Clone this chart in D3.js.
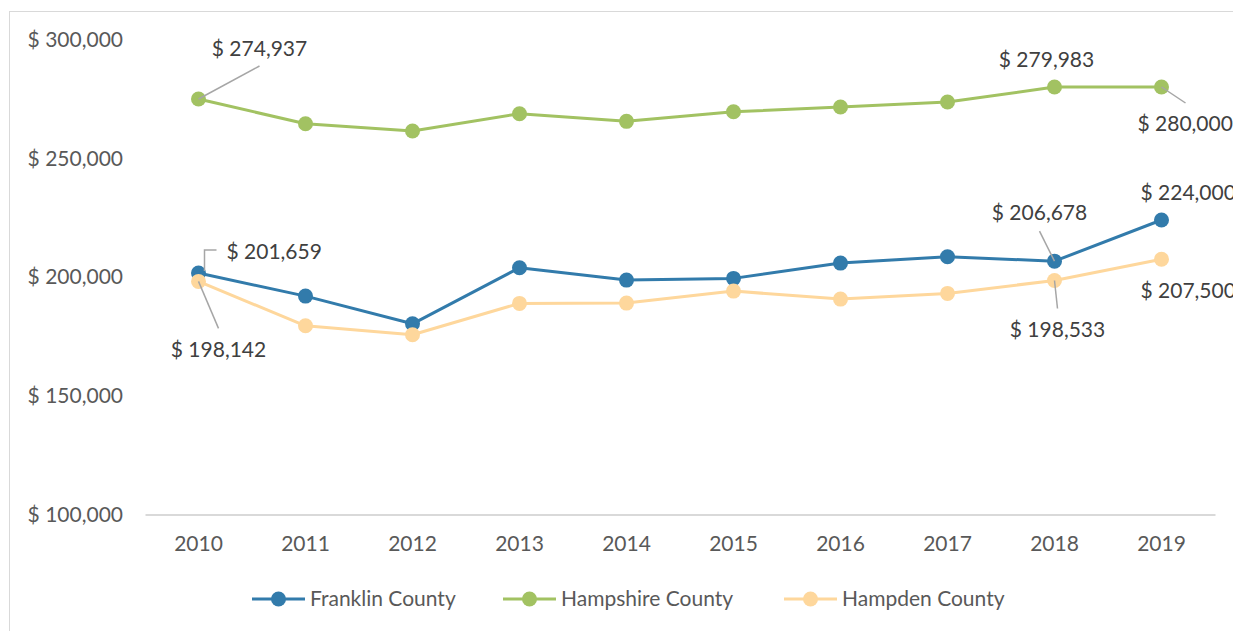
<!DOCTYPE html>
<html>
<head>
<meta charset="utf-8">
<script src="https://cdn.jsdelivr.net/npm/d3@7"></script>
<style>
  body { margin: 0; background: #fff; }
  svg { display: block; font-family: Lato, "Open Sans", sans-serif; }
</style>
</head>
<body>
<svg id="chart" width="1233" height="631"></svg>
<script>
// data
const years = ['2010', '2011', '2012', '2013', '2014', '2015', '2016', '2017', '2018', '2019'];
const seriesNames = ['Franklin County', 'Hampshire County', 'Hampden County'];
const franklin = [201659, 191955, 180295, 203882, 198701, 199417, 205855, 208509, 206678, 224000];
const hampshire = [274937, 264533, 261460, 268747, 265546, 269589, 271569, 273673, 279983, 280000];
const hampden = [198142, 179444, 175662, 188887, 189014, 194068, 190691, 193092, 198533, 207500];
const yTicks = [100000, 150000, 200000, 250000, 300000];

// which points carry a data label: [series index, year index]
const labelled = [
  [1, 0], [0, 0], [2, 0],
  [1, 8], [1, 9], [0, 9], [0, 8], [2, 8], [2, 9]
];

// label placement relative to the point (anchor, dx, dy, leader polyline)
const labelLayout = [
  { anchor: 'middle', dx: 61, dy: -50, leader: [[0, 0], [61, -33]] },
  { anchor: 'start', dx: 28, dy: -21, leader: [[6, -2], [6, -23], [18, -23]] },
  { anchor: 'middle', dx: 20, dy: 68, leader: [[0, 0], [20, 47]] },
  { anchor: 'middle', dx: -8, dy: -27, leader: null },
  { anchor: 'start', dx: -24, dy: 37, leader: [[0, 0], [24, 16]] },
  { anchor: 'start', dx: -21, dy: -27, leader: null },
  { anchor: 'middle', dx: -15, dy: -48, leader: [[-15, -30], [0, 0]] },
  { anchor: 'middle', dx: 3, dy: 49, leader: [[0, 0], [3, 28]] },
  { anchor: 'start', dx: -21, dy: 31, leader: null }
];

const colors = ['#327bab', '#a2c262', '#fed79c'];
const seriesValues = [franklin, hampshire, hampden];
const fontSize = 21;

const svg = d3.select('#chart');

// outer chart border
svg.append('rect')
  .attr('x', 9.5).attr('y', 11.5)
  .attr('width', 1240).attr('height', 640)
  .attr('fill', 'none')
  .attr('stroke', '#d9d9d9');

const x = d3.scaleBand().domain(years).range([145, 1215]);
const y = d3.scaleLinear().domain([100000, 300000]).range([514.5, 39.5]);
const cx = d => x(d) + x.bandwidth() / 2;
const money = v => '$ ' + d3.format(',')(v);

// y axis labels (no gridlines except baseline)
svg.append('g')
  .selectAll('text')
  .data(yTicks)
  .join('text')
  .attr('x', 123)
  .attr('y', d => y(d))
  .attr('dy', '0.35em')
  .attr('text-anchor', 'end')
  .attr('font-size', fontSize)
  .attr('fill', '#595959')
  .text(money);

// x axis
const xAxis = svg.append('g')
  .attr('transform', `translate(0,${y(100000)})`)
  .call(d3.axisBottom(x).tickSize(0).tickPadding(22));
xAxis.select('.domain').attr('stroke', '#d9d9d9').attr('stroke-width', 2);
xAxis.selectAll('text')
  .attr('font-size', fontSize)
  .attr('font-family', 'Lato, "Open Sans", sans-serif')
  .attr('fill', '#595959');

// lines and markers
const line = d3.line()
  .x((d, i) => cx(years[i]))
  .y(d => y(d));

seriesValues.forEach((vals, s) => {
  const g = svg.append('g');
  g.append('path')
    .datum(vals)
    .attr('d', line)
    .attr('fill', 'none')
    .attr('stroke', colors[s])
    .attr('stroke-width', 3)
    .attr('stroke-linejoin', 'round');
  g.selectAll('circle')
    .data(vals)
    .join('circle')
    .attr('cx', (d, i) => cx(years[i]))
    .attr('cy', d => y(d))
    .attr('r', 7.5)
    .attr('fill', colors[s]);
});

// data labels with leader lines
const labels = svg.append('g');
labelled.forEach(([s, i], k) => {
  const px = cx(years[i]);
  const py = y(seriesValues[s][i]);
  const lay = labelLayout[k];
  if (lay.leader) {
    labels.append('path')
      .attr('d', d3.line()(lay.leader.map(p => [px + p[0], py + p[1]])))
      .attr('fill', 'none')
      .attr('stroke', '#a6a6a6')
      .attr('stroke-width', 1.5);
  }
  labels.append('text')
    .attr('x', px + lay.dx)
    .attr('y', py + lay.dy)
    .attr('dy', '0.35em')
    .attr('text-anchor', lay.anchor)
    .attr('font-size', fontSize)
    .attr('fill', '#404040')
    .text(money(seriesValues[s][i]));
});

// legend
const legendX = [252, 503, 784];
const legend = svg.append('g')
  .selectAll('g')
  .data(seriesNames)
  .join('g')
  .attr('transform', (d, i) => `translate(${legendX[i]},599)`);
legend.append('line')
  .attr('x1', 0).attr('x2', 53)
  .attr('stroke', (d, i) => colors[i])
  .attr('stroke-width', 3);
legend.append('circle')
  .attr('cx', 26.5)
  .attr('r', 7.5)
  .attr('fill', (d, i) => colors[i]);
legend.append('text')
  .attr('x', 58)
  .attr('dy', '0.35em')
  .attr('font-size', fontSize)
  .attr('fill', '#595959')
  .text(d => d);
</script>
</body>
</html>
